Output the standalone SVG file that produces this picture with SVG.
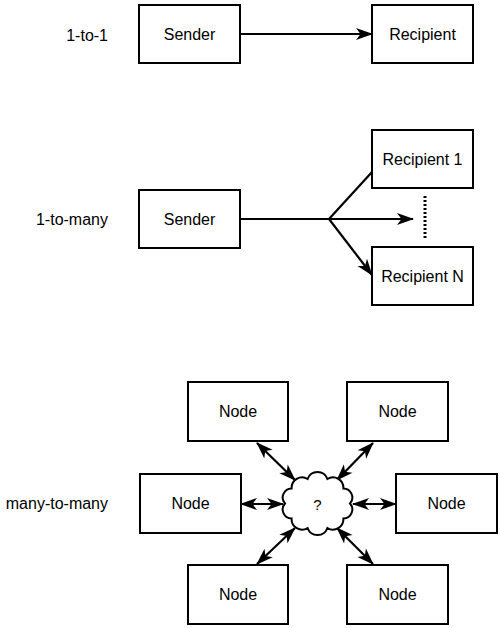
<svg xmlns="http://www.w3.org/2000/svg" width="500" height="628" viewBox="0 0 500 628">
<style>
.box{fill:#fff;stroke:#000;stroke-width:2}
.t{font-family:"Liberation Sans",Arial,Helvetica,sans-serif;font-size:16px;fill:#000;text-anchor:middle}
.lbl{font-family:"Liberation Sans",Arial,Helvetica,sans-serif;font-size:16px;fill:#000;text-anchor:end}
.c{fill:none;stroke:#000;stroke-width:2.2}
</style>
<defs>
<marker id="ah" markerUnits="userSpaceOnUse" viewBox="0 0 17 12" markerWidth="17" markerHeight="12" refX="16" refY="6" orient="auto-start-reverse" overflow="visible">
<path d="M0,0 L17,6 L0,12 L4.5,6 z" fill="#000"/>
</marker>
</defs>
<rect width="500" height="628" fill="#fff"/>
<g id="labels">
<text class="lbl" x="108" y="41">1-to-1</text>
<text class="lbl" x="108" y="225">1-to-many</text>
<text class="lbl" x="108" y="509">many-to-many</text>
</g>
<g id="connectors">
<line class="c" x1="240" y1="34" x2="372" y2="34" marker-end="url(#ah)"/>
<polyline class="c" points="240,219 329,219"/>
<line class="c" x1="329" y1="219" x2="413" y2="219" marker-end="url(#ah)"/>
<line class="c" x1="329" y1="219" x2="372" y2="172"/>
<line class="c" x1="329" y1="219" x2="372" y2="275" marker-end="url(#ah)"/>
<line x1="425" y1="196" x2="425" y2="240" stroke="#000" stroke-width="3" stroke-dasharray="2,2"/>
<line class="c" x1="257" y1="443" x2="295" y2="480" marker-start="url(#ah)" marker-end="url(#ah)"/>
<line class="c" x1="373" y1="443" x2="337" y2="480" marker-start="url(#ah)" marker-end="url(#ah)"/>
<line class="c" x1="241" y1="504" x2="283" y2="504" marker-start="url(#ah)" marker-end="url(#ah)"/>
<line class="c" x1="396" y1="504" x2="353" y2="504" marker-start="url(#ah)" marker-end="url(#ah)"/>
<line class="c" x1="257" y1="564" x2="295" y2="528" marker-start="url(#ah)" marker-end="url(#ah)"/>
<line class="c" x1="373" y1="564" x2="337" y2="528" marker-start="url(#ah)" marker-end="url(#ah)"/>
</g>
<g id="sender1"><rect class="box" x="139" y="5" width="101" height="58"/><text class="t" x="189.5" y="40">Sender</text></g>
<g id="recipient"><rect class="box" x="372" y="5" width="101" height="58"/><text class="t" x="422.5" y="40">Recipient</text></g>
<g id="sender2"><rect class="box" x="139" y="190" width="101" height="58"/><text class="t" x="189.5" y="225">Sender</text></g>
<g id="recipient1"><rect class="box" x="372" y="130" width="101" height="58"/><text class="t" x="422.5" y="165">Recipient 1</text></g>
<g id="recipientN"><rect class="box" x="372" y="247" width="101" height="58"/><text class="t" x="422.5" y="282">Recipient N</text></g>
<g id="node-tl"><rect class="box" x="188" y="382" width="100" height="59"/><text class="t" x="238" y="417">Node</text></g>
<g id="node-tr"><rect class="box" x="347" y="382" width="101" height="59"/><text class="t" x="397.5" y="417">Node</text></g>
<g id="node-l"><rect class="box" x="140" y="474" width="101" height="59"/><text class="t" x="190.5" y="509">Node</text></g>
<g id="node-r"><rect class="box" x="396" y="474" width="101" height="59"/><text class="t" x="446.5" y="509">Node</text></g>
<g id="node-bl"><rect class="box" x="188" y="565" width="100" height="59"/><text class="t" x="238" y="600">Node</text></g>
<g id="node-br"><rect class="box" x="347" y="565" width="101" height="59"/><text class="t" x="397.5" y="600">Node</text></g>
<g id="cloud">
<path class="box" d="M350,503.5 A9,9 0 0 1 343.4,518.5 A10.5,10.5 0 0 1 327.4,528 A10.5,10.5 0 0 1 307.6,528 A10.5,10.5 0 0 1 291.6,518.5 A9,9 0 0 1 285,503.5 A9,9 0 0 1 291.6,488.5 A10.5,10.5 0 0 1 307.6,479 A10.5,10.5 0 0 1 327.4,479 A10.5,10.5 0 0 1 343.4,488.5 A9,9 0 0 1 350,503.5 z"/>
<text x="317.5" y="510" style="font-family:'Liberation Sans',Arial,sans-serif;font-size:15px;text-anchor:middle">?</text>
</g>
</svg>
